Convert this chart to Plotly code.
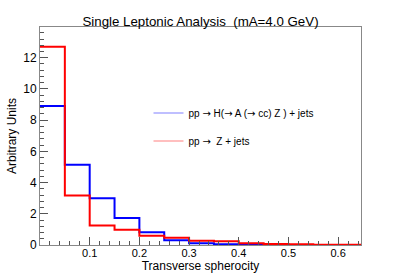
import plotly.graph_objects as go

bin_edges = [0.00, 0.05, 0.10, 0.15, 0.20, 0.25, 0.30, 0.35, 0.40, 0.45, 0.50, 0.55, 0.60, 0.65]
signal = [8.9, 5.15, 3.0, 1.73, 0.82, 0.3, 0.12, 0.05, 0.03, 0.01, 0.0, 0.0, 0.0]
background = [12.7, 3.17, 1.25, 0.98, 0.6, 0.46, 0.27, 0.24, 0.12, 0.06, 0.05, 0.02, 0.02]
ARW = "<span style=\"font-family:'DejaVu Sans'\">\u2192</span>"
sig_label = f"pp {ARW} H({ARW} A ({ARW} cc) Z ) + jets"
bkg_label = f"pp {ARW}  Z + jets"
x_ticks = [0.1, 0.2, 0.3, 0.4, 0.5, 0.6]
y_ticks = [0, 2, 4, 6, 8, 10, 12]

FONT = "Liberation Sans, Arial, sans-serif"

fig = go.Figure()

def step(vals):
    return list(bin_edges), list(vals) + [vals[-1]]

for vals, col, lab, lcol, grp in [
    (signal, "#0000ff", sig_label, "#8080ff", "a"),
    (background, "#ff0000", bkg_label, "#ff8080", "b"),
]:
    xs, ys = step(vals)
    fig.add_trace(go.Scatter(x=xs, y=ys, mode="lines", line=dict(color=col, width=2, shape="hv"),
                             showlegend=False, hoverinfo="skip"))
    fig.add_trace(go.Scatter(x=[None], y=[None], mode="lines", line=dict(color=lcol, width=1.2),
                             name=lab, legendgroup=grp, showlegend=True))

fig.update_layout(
    width=401, height=273,
    margin=dict(l=40, r=40, t=27, b=28),
    paper_bgcolor="white", plot_bgcolor="white",
    font=dict(family=FONT, color="black", size=11),
    title=dict(text="Single Leptonic Analysis  (mA=4.0 GeV)", x=0.5, xanchor="center",
               y=1 - 21 / 273, yanchor="middle", font=dict(size=13.3)),
    legend=dict(x=0.338, y=0.672, xanchor="left", yanchor="top", bgcolor="rgba(0,0,0,0)",
                font=dict(size=10), traceorder="grouped", tracegroupgap=9, itemwidth=30),
)
fig.update_xaxes(
    range=[0, 0.646], tickvals=x_ticks, ticktext=[str(v) for v in x_ticks], automargin=False,
    ticks="inside", ticklen=8, tickcolor="#555", showline=True, linecolor="#888", linewidth=1,
    mirror=True, showgrid=False, zeroline=False, ticklabelstandoff=-2,
    minor=dict(ticks="inside", dtick=0.02, tick0=0, ticklen=4, tickcolor="#555", showgrid=False),
    title=dict(text="Transverse spherocity", font=dict(size=12), standoff=3),
    tickfont=dict(size=11),
)
fig.update_yaxes(
    range=[0, 13.97], tickvals=y_ticks, automargin=False,
    ticks="inside", ticklen=8, tickcolor="#555", showline=True, linecolor="#888", linewidth=1,
    mirror=True, showgrid=False, zeroline=False,
    minor=dict(ticks="inside", dtick=0.4, tick0=0, ticklen=4, tickcolor="#555", showgrid=False),
    title=dict(text="Arbitrary Units", font=dict(size=12), standoff=4),
    tickfont=dict(size=12),
)

fig.write_html("out.html", config={"displayModeBar": False},
               post_script="document.body.style.margin='0px';")
